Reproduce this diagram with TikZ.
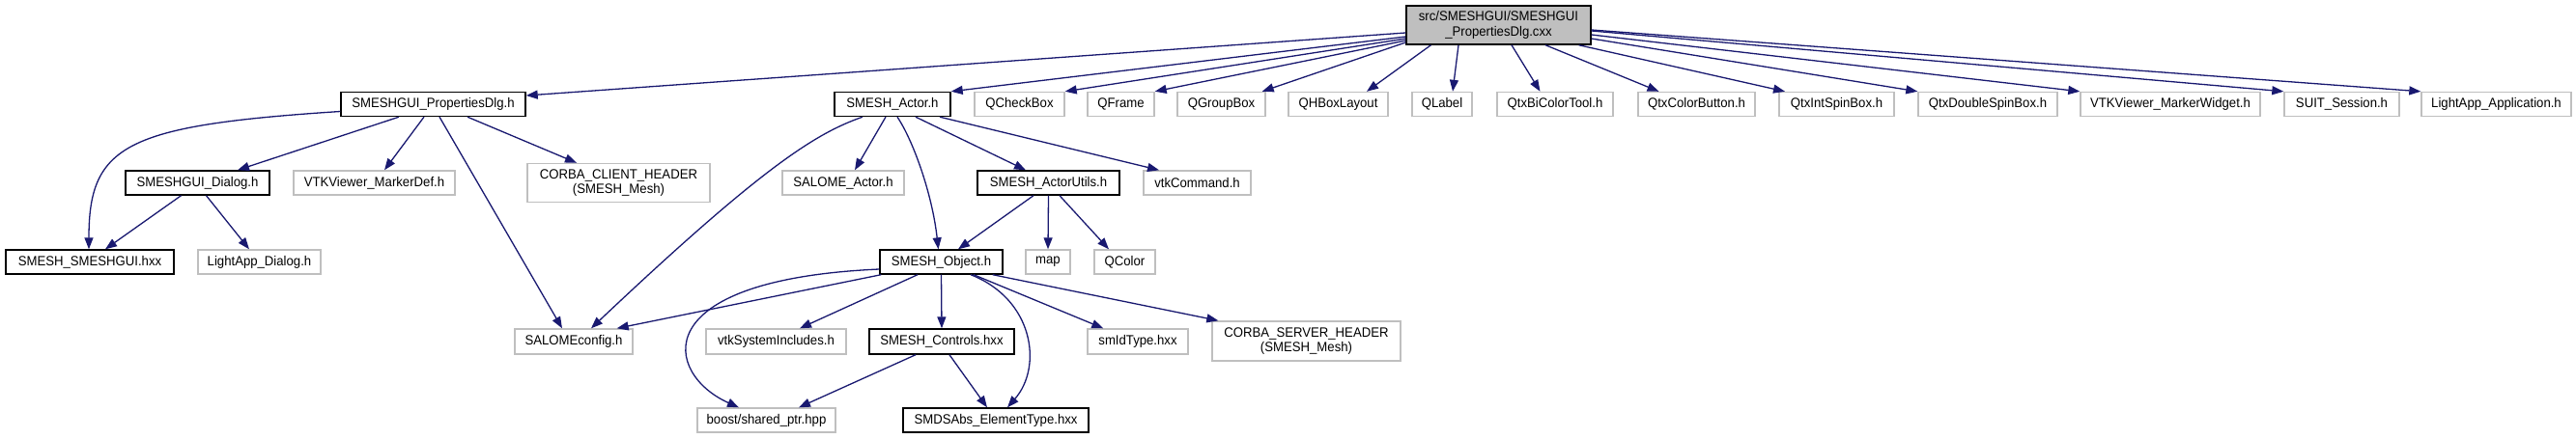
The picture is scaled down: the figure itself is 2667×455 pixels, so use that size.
\documentclass[tikz,border=0pt]{standalone}
\usepackage{fontspec}
\setmainfont{Liberation Sans}[FakeStretch=0.94]
\usetikzlibrary{arrows.meta,calc}
\definecolor{edgeblue}{HTML}{191970}
\definecolor{boxgrey}{HTML}{BFBFBF}
\newcommand{\lblfont}{\fontsize{14}{15.5}\selectfont}
\tikzset{
  box/.style={draw, line width=1.4pt, inner sep=0pt, minimum height=25pt, font=\lblfont, align=center, text=black},
  doc/.style={box, draw=black, fill=white},
  ext/.style={box, draw=boxgrey, fill=white},
  rootbox/.style={box, draw=black, fill=boxgrey, minimum height=40pt},
  inc/.style={draw=edgeblue, line width=1.3pt, -{Triangle[length=12pt,width=9pt]}},
}
\begin{document}
\begin{tikzpicture}[x=1pt,y=-1pt]
\path[use as bounding box] (0,0) rectangle (2667,455);
% row 0
\node[rootbox, minimum width=191pt] (root) at (1551.5,26) {src/SMESHGUI/SMESHGUI\\\_PropertiesDlg.cxx};
% row 1
\node[doc, minimum width=191pt] (propdlg) at (448.5,108) {SMESHGUI\_PropertiesDlg.h};
\node[doc, minimum width=120pt] (actor) at (924,108) {SMESH\_Actor.h};
\node[ext, minimum width=93pt] (qcheckbox) at (1055.5,108) {QCheckBox};
\node[ext, minimum width=69pt] (qframe) at (1160.5,108) {QFrame};
\node[ext, minimum width=91pt] (qgroupbox) at (1264.5,108) {QGroupBox};
\node[ext, minimum width=103pt] (qhbox) at (1385.5,108) {QHBoxLayout};
\node[ext, minimum width=62pt] (qlabel) at (1493,108) {QLabel};
\node[ext, minimum width=120pt] (bicolor) at (1610,108) {QtxBiColorTool.h};
\node[ext, minimum width=121pt] (colorbtn) at (1756.5,108) {QtxColorButton.h};
\node[ext, minimum width=119pt] (intspin) at (1901.5,108) {QtxIntSpinBox.h};
\node[ext, minimum width=144pt] (dblspin) at (2058,108) {QtxDoubleSpinBox.h};
\node[ext, minimum width=186pt] (markerwidget) at (2247,108) {VTKViewer\_MarkerWidget.h};
\node[ext, minimum width=119pt] (suit) at (2424.5,108) {SUIT\_Session.h};
\node[ext, minimum width=155pt] (lightappapp) at (2584.5,108) {LightApp\_Application.h};
% row 2
\node[doc, minimum width=149pt] (dialog) at (204.5,189.5) {SMESHGUI\_Dialog.h};
\node[ext, minimum width=167pt] (markerdef) at (387.5,189.5) {VTKViewer\_MarkerDef.h};
\node[ext, minimum width=189pt, minimum height=40pt] (corbaclient) at (640.5,189.5) {CORBA\_CLIENT\_HEADER\\(SMESH\_Mesh)};
\node[ext, minimum width=126pt] (salomeactor) at (873,189.5) {SALOME\_Actor.h};
\node[doc, minimum width=147pt] (actorutils) at (1085.5,189.5) {SMESH\_ActorUtils.h};
\node[ext, minimum width=111pt] (vtkcommand) at (1239.5,189.5) {vtkCommand.h};
% row 3
\node[doc, minimum width=174pt] (smeshgui) at (93,271.5) {SMESH\_SMESHGUI.hxx};
\node[ext, minimum width=127pt] (lightappdialog) at (268.5,271.5) {LightApp\_Dialog.h};
\node[doc, minimum width=127pt] (object) at (974.5,271.5) {SMESH\_Object.h};
\node[ext, minimum width=46pt] (map) at (1085,271.5) {map};
\node[ext, minimum width=63pt] (qcolor) at (1164.5,271.5) {QColor};
% row 4
\node[ext, minimum width=122pt, minimum height=26pt] (salomeconfig) at (594,354) {SALOMEconfig.h};
\node[ext, minimum width=145pt, minimum height=26pt] (vtksys) at (803.5,354) {vtkSystemIncludes.h};
\node[doc, minimum width=150pt, minimum height=26pt] (controls) at (975,354) {SMESH\_Controls.hxx};
\node[ext, minimum width=104pt, minimum height=26pt] (smidtype) at (1178,354) {smIdType.hxx};
\node[ext, minimum width=195pt, minimum height=41pt] (corbaserver) at (1352.5,353.5) {CORBA\_SERVER\_HEADER\\(SMESH\_Mesh)};
% row 5
\node[ext, minimum width=143pt] (boost) at (793.5,435.5) {boost/shared\_ptr.hpp};
\node[doc, minimum width=192pt] (smdsabs) at (1031,435.5) {SMDSAbs\_ElementType.hxx};
% root edges
\draw[inc] ($(root.west)+(0,8)$) -- ($(propdlg.east)+(0,-9)$);
\draw[inc] ($(root.west)+(0,12)$) -- (actor.north east);
\draw[inc] ($(root.west)+(0,14)$) -- (qcheckbox.north east);
\draw[inc] ($(root.west)+(0,16)$) -- (qframe.north east);
\draw[inc] ($(root.west)+(0,18)$) -- ($(qgroupbox.north east)+(-4,0)$);
\draw[inc] ($(root.south)+(-70,0)$) -- ($(qhbox.north)+(29.5,0)$);
\draw[inc] ($(root.south)+(-41.5,0)$) -- ($(qlabel.north)+(11,0)$);
\draw[inc] ($(root.south)+(13.5,0)$) -- ($(bicolor.north)+(-15.5,0)$);
\draw[inc] ($(root.south)+(48.5,0)$) -- ($(colorbtn.north)+(-39,0)$);
\draw[inc] ($(root.south)+(83,0)$) -- ($(intspin.north)+(-53.5,0)$);
\draw[inc] ($(root.east)+(0,14)$) -- (dblspin.north west);
\draw[inc] ($(root.east)+(0,10)$) -- (markerwidget.north west);
\draw[inc] ($(root.east)+(0,6)$) -- (suit.north west);
\draw[inc] ($(root.east)+(0,5)$) -- (lightappapp.north west);
% SMESHGUI_PropertiesDlg.h edges
\draw[inc] ($(propdlg.west)+(0,7.5)$) .. controls (130,130) and (92,150) .. ($(smeshgui.north)+(-1,0)$);
\draw[inc] ($(propdlg.south)+(-35.5,0)$) -- ($(dialog.north)+(41.5,0)$);
\draw[inc] ($(propdlg.south)+(-9.5,0)$) -- ($(markerdef.north)+(10.5,0)$);
\draw[inc] ($(propdlg.south)+(6.5,0)$) -- ($(salomeconfig.north)+(-12,0)$);
\draw[inc] ($(propdlg.south)+(35.5,0)$) -- ($(corbaclient.north)+(-43.5,0)$);
% SMESH_Actor.h edges
\draw[inc] ($(actor.south)+(-31,0)$) .. controls (845,138) and (790,172) .. ($(salomeconfig.north)+(18,0)$);
\draw[inc] ($(actor.south)+(-7,0)$) -- ($(salomeactor.north)+(12,0)$);
\draw[inc] ($(actor.south)+(5,0)$) .. controls (945,145) and (965,200) .. ($(object.north)+(-3,0)$);
\draw[inc] ($(actor.south)+(24,0)$) -- ($(actorutils.north)+(-23.5,0)$);
\draw[inc] ($(actor.south)+(49,0)$) -- ($(vtkcommand.north)+(-39.5,0)$);
% SMESHGUI_Dialog.h edges
\draw[inc] ($(dialog.south)+(-17,0)$) -- ($(smeshgui.north)+(16,0)$);
\draw[inc] ($(dialog.south)+(9,0)$) -- ($(lightappdialog.north)+(-10.5,0)$);
% SMESH_ActorUtils.h edges
\draw[inc] ($(actorutils.south)+(-15.5,0)$) -- ($(object.north)+(17.5,0)$);
\draw[inc] (actorutils.south) -- (map.north);
\draw[inc] ($(actorutils.south)+(11.5,0)$) -- ($(qcolor.north)+(-16.5,0)$);
% SMESH_Object.h edges
\draw[inc] ($(object.south west)+(2,0)$) -- ($(salomeconfig.north east)+(-17,0)$);
\draw[inc] ($(object.west)+(0,7.5)$) .. controls (665,290) and (688,388) .. ($(boost.north)+(-28.5,0)$);
\draw[inc] ($(object.south)+(-24.5,0)$) -- ($(vtksys.north)+(24.5,0)$);
\draw[inc] (object.south) -- (controls.north);
\draw[inc] ($(object.south)+(30.5,0)$) .. controls (1070,310) and (1080,380) .. ($(smdsabs.north)+(12,0)$);
\draw[inc] ($(object.south)+(33.5,0)$) -- ($(smidtype.north west)+(17,0)$);
\draw[inc] ($(object.south east)+(-11,0)$) -- ($(corbaserver.north west)+(7,0)$);
% SMESH_Controls.hxx edges
\draw[inc] ($(controls.south)+(-27,0)$) -- ($(boost.north)+(33.5,0)$);
\draw[inc] ($(controls.south)+(8,0)$) -- ($(smdsabs.north)+(-9,0)$);
\end{tikzpicture}
\end{document}
